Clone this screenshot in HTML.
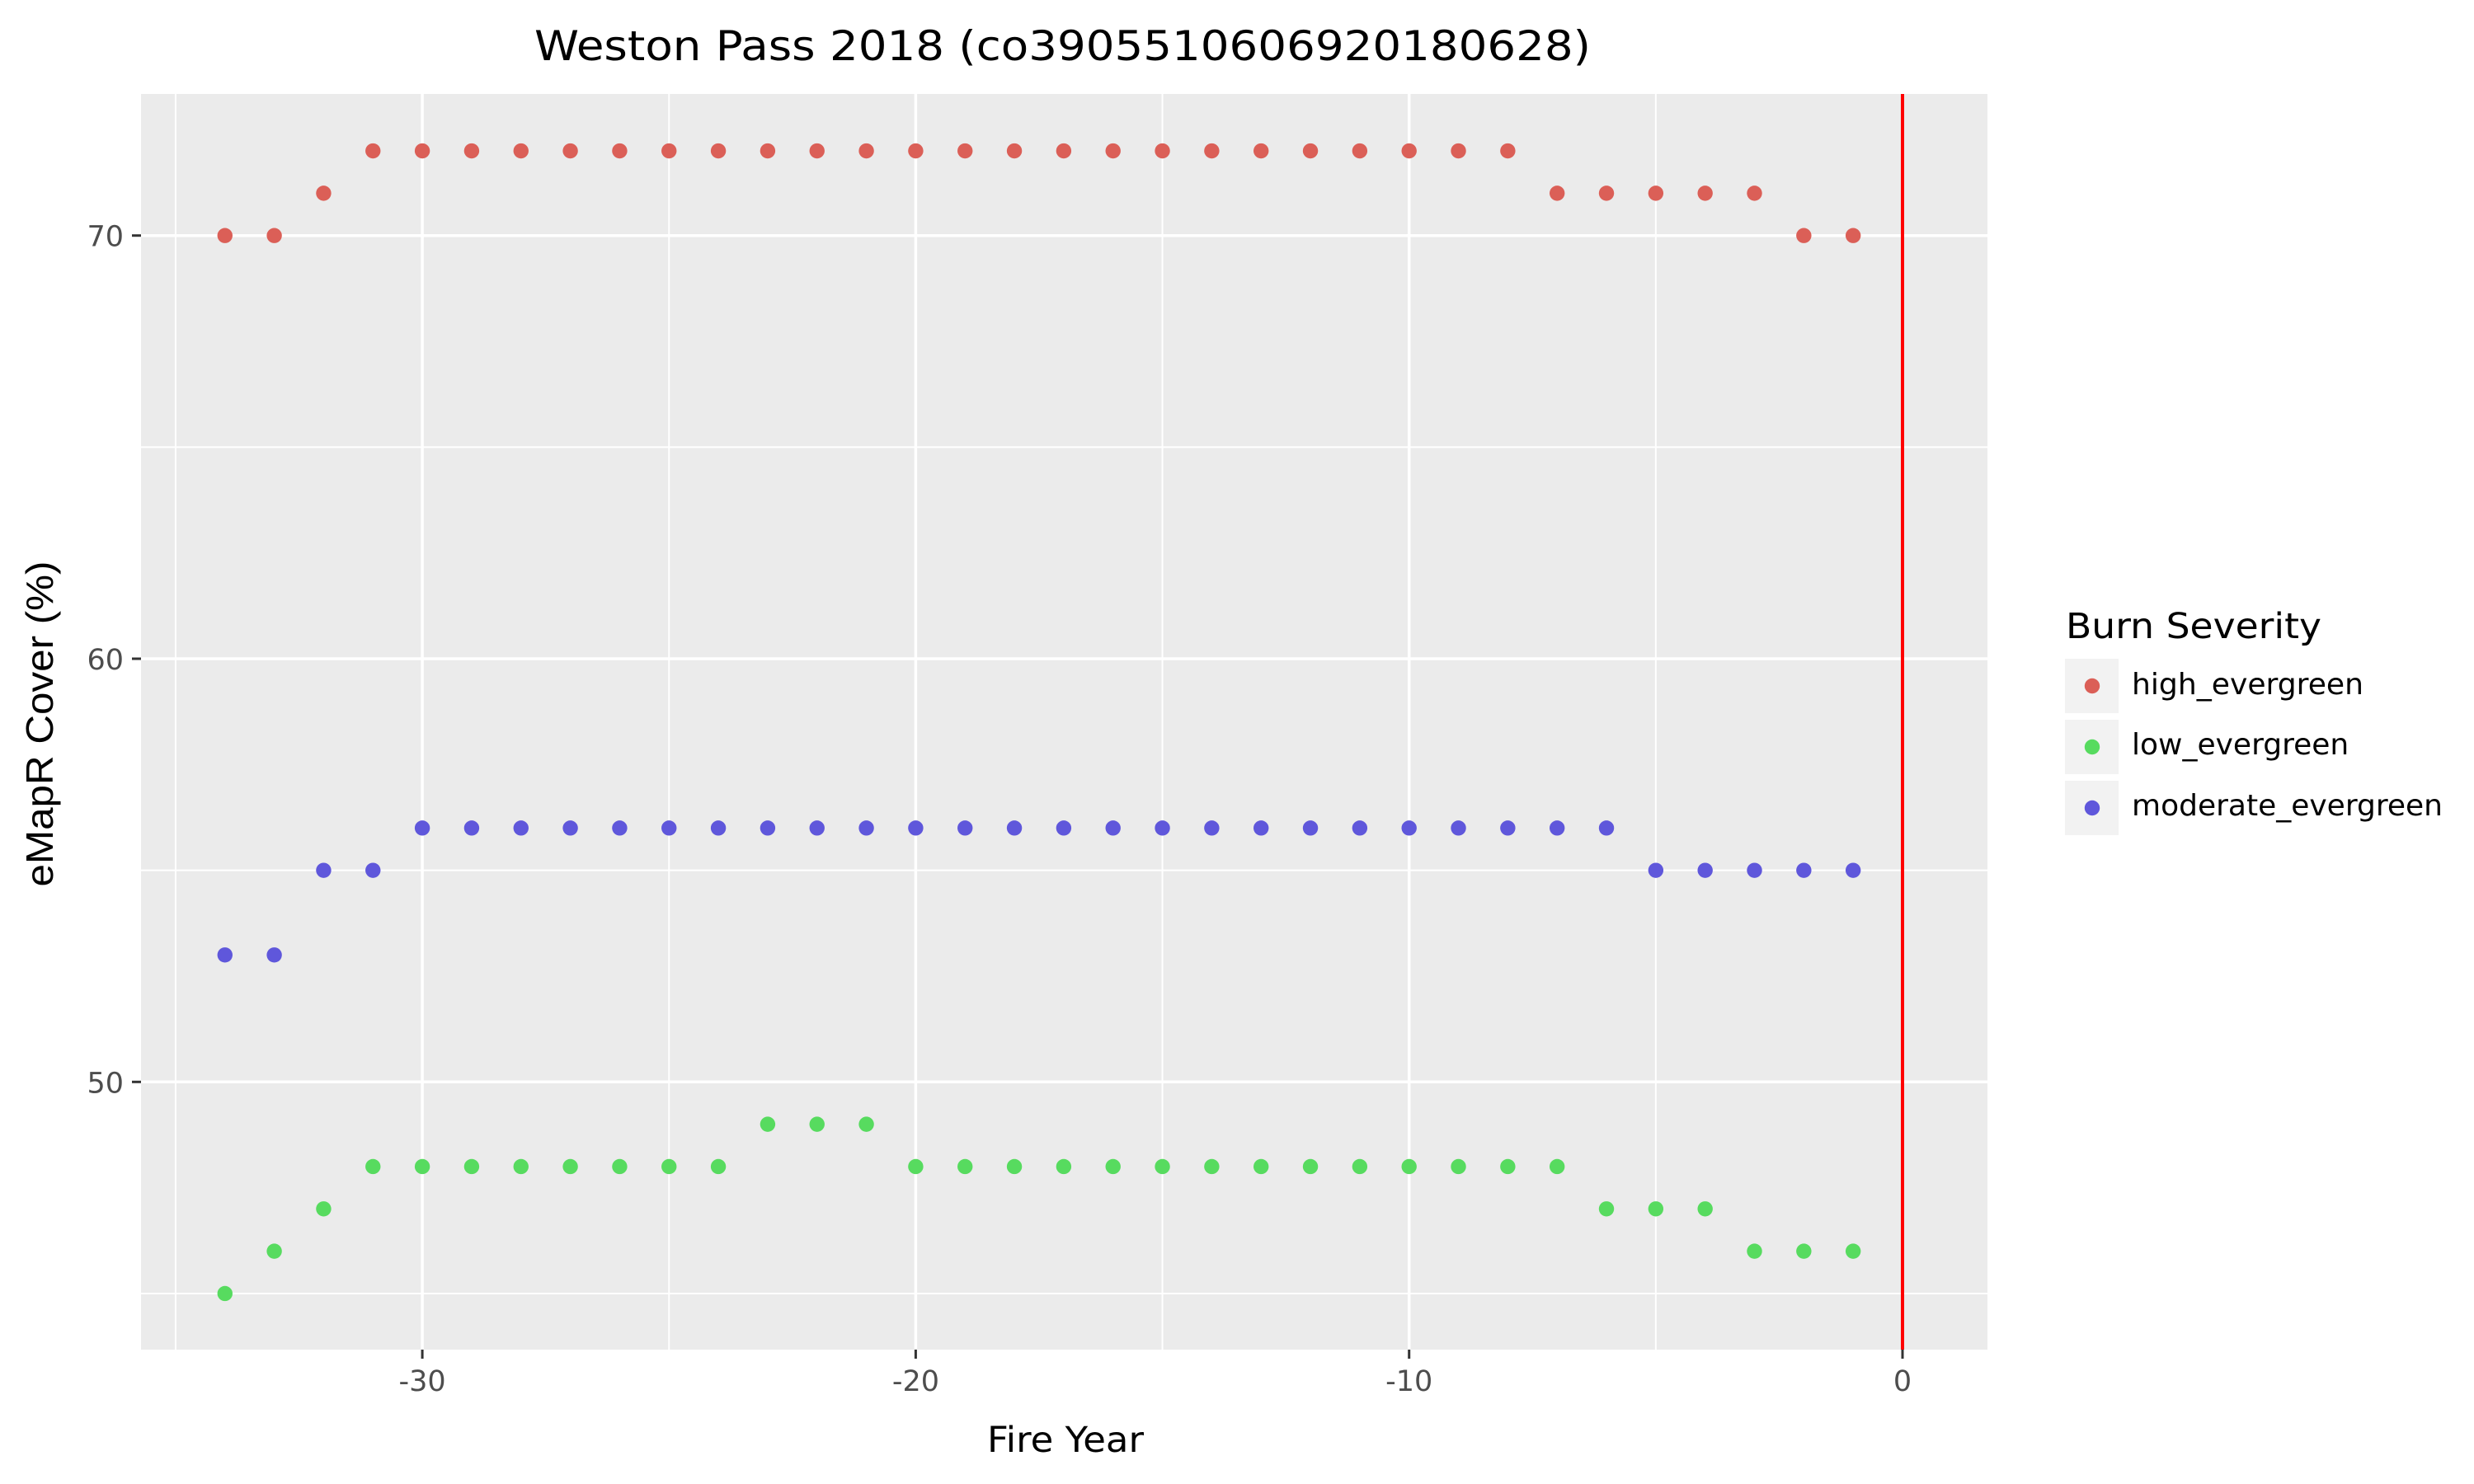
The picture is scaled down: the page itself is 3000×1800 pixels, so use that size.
<!DOCTYPE html>
<html><head><meta charset="utf-8"><style>
html,body{margin:0;padding:0;background:#fff;}
svg{display:block;font-family:"DejaVu Sans","Liberation Sans",sans-serif;}
</style></head><body>
<svg id="s" width="3000" height="1800" viewBox="0 0 3000 1800" xmlns="http://www.w3.org/2000/svg">
<rect x="0" y="0" width="3000" height="1800" fill="#fff"/>
<rect x="171" y="114" width="2239" height="1523" fill="#ebebeb"/>
<g id="grid"></g>
<line x1="2307" y1="114" x2="2307" y2="1637" stroke="#ff0000" stroke-width="4"/>
<g id="pts"></g>
<g id="ticks" fill="#4d4d4d" font-size="35"></g>
<text x="648" y="73" font-size="50" textLength="1281" lengthAdjust="spacingAndGlyphs" fill="#000">Weston Pass 2018 (co3905510606920180628)</text>
<text x="1197" y="1761" font-size="43" textLength="190" lengthAdjust="spacingAndGlyphs" fill="#000">Fire Year</text>
<text transform="translate(64,878) rotate(-90)" font-size="46" text-anchor="middle" textLength="395" lengthAdjust="spacingAndGlyphs" fill="#000" font-family="Liberation Sans, sans-serif">eMapR Cover (%)</text>
<text x="2505" y="774" font-size="43" textLength="310" lengthAdjust="spacingAndGlyphs" fill="#000">Burn Severity</text>
<rect x="2504" y="799" width="65" height="66" fill="#f2f2f2"/>
<rect x="2504" y="873" width="65" height="66" fill="#f2f2f2"/>
<rect x="2504" y="947" width="65" height="66" fill="#f2f2f2"/>
<circle cx="2537" cy="832" r="9.2" fill="#db5f57"/>
<circle cx="2537" cy="906" r="9.2" fill="#57db5f"/>
<circle cx="2537" cy="980" r="9.2" fill="#5f57db"/>
<text x="2585" y="842" font-size="36" textLength="281" lengthAdjust="spacingAndGlyphs" fill="#000">high_evergreen</text>
<text x="2585" y="915" font-size="36" fill="#000">low_evergreen</text>
<text x="2585" y="989" font-size="36" fill="#000">moderate_evergreen</text>
</svg>
<script>
var NS="http://www.w3.org/2000/svg";
function X(v){return 2307+v*59.83;}
function Y(v){return 285.7-(v-70)*51.33;}
function el(p,t,a){var e=document.createElementNS(NS,t);for(var k in a)e.setAttribute(k,a[k]);p.appendChild(e);return e;}
var g=document.getElementById("grid");
[-35,-25,-15,-5].forEach(function(v){el(g,"line",{x1:X(v),x2:X(v),y1:114,y2:1637,stroke:"#fff","stroke-width":2});});
[45,55,65].forEach(function(v){el(g,"line",{x1:171,x2:2410,y1:Y(v),y2:Y(v),stroke:"#fff","stroke-width":2});});
[-30,-20,-10,0].forEach(function(v){el(g,"line",{x1:X(v),x2:X(v),y1:114,y2:1637,stroke:"#fff","stroke-width":3.5});});
[50,60,70].forEach(function(v){el(g,"line",{x1:171,x2:2410,y1:Y(v),y2:Y(v),stroke:"#fff","stroke-width":3.5});});
var t=document.getElementById("ticks");
[-30,-20,-10,0].forEach(function(v){el(t,"line",{x1:X(v),x2:X(v),y1:1637,y2:1648,stroke:"#333","stroke-width":3});
var tx=el(t,"text",{x:X(v),y:1687,"text-anchor":"middle"});tx.textContent=v;});
[50,60,70].forEach(function(v){el(t,"line",{x1:160,x2:171,y1:Y(v),y2:Y(v),stroke:"#333","stroke-width":3});
var tx=el(t,"text",{x:150,y:Y(v)+13,"text-anchor":"end"});tx.textContent=v;});
var p=document.getElementById("pts");
function high(x){if(x<=-33||x>=-2)return 70;if(x==-32||x>=-7)return 71;return 72;}
function mod(x){if(x<=-33)return 53;if(x<=-31||x>=-5)return 55;return 56;}
function low(x){if(x==-34)return 45;if(x==-33)return 46;if(x==-32)return 47;if(x>=-23&&x<=-21)return 49;if(x>=-6&&x<=-4)return 47;if(x>=-3)return 46;return 48;}
for(var x=-34;x<=-1;x++){
el(p,"circle",{cx:X(x),cy:Y(high(x)),r:9.2,fill:"#db5f57"});
el(p,"circle",{cx:X(x),cy:Y(low(x)),r:9.2,fill:"#57db5f"});
el(p,"circle",{cx:X(x),cy:Y(mod(x)),r:9.2,fill:"#5f57db"});
}
</script>
</body></html>
